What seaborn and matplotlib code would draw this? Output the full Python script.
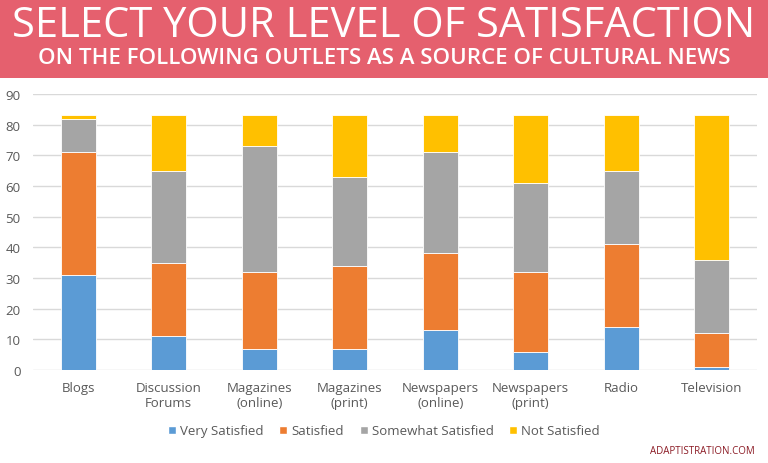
import numpy as np
import pandas as pd
import seaborn as sns
import matplotlib.pyplot as plt
from matplotlib.patches import Rectangle, Patch

# datos
outlets = ['Blogs', 'Discussion\nForums', 'Magazines\n(online)', 'Magazines\n(print)',
           'Newspapers\n(online)', 'Newspapers\n(print)', 'Radio', 'Television']
very_satisfied = [31, 11, 7, 7, 13, 6, 14, 1]
satisfied = [40, 24, 25, 27, 25, 26, 27, 11]
somewhat_satisfied = [11, 30, 41, 29, 33, 29, 24, 24]
not_satisfied = [1, 18, 10, 20, 12, 22, 18, 47]
levels = ['Very Satisfied', 'Satisfied', 'Somewhat Satisfied', 'Not Satisfied']
colores = ['#5B9BD5', '#ED7D31', '#A5A5A5', '#FFC000']

sns.set_style('white')
plt.rcParams['font.family'] = ['Open Sans', 'DejaVu Sans']

fig = plt.figure(figsize=(7.68, 4.64), dpi=100)
# banda de titulo
fig.patches.append(Rectangle((0, 1 - 79 / 464), 1, 79 / 464, transform=fig.transFigure,
                             facecolor='#E5606E', edgecolor='none', zorder=0))
fig.text(0.5, 1 - 26 / 464, 'SELECT YOUR LEVEL OF SATISFACTION', ha='center', va='center',
         color='white', fontsize=30)
fig.text(0.5, 1 - 58 / 464, 'ON THE FOLLOWING OUTLETS AS A SOURCE OF CULTURAL NEWS',
         ha='center', va='center', color='white', fontsize=16, fontweight='semibold')

ax = fig.add_axes([33 / 768, 1 - 371 / 464, (757 - 33) / 768, (371 - 95) / 464])

df = pd.DataFrame({'outlet': outlets, 'Very Satisfied': very_satisfied, 'Satisfied': satisfied,
                   'Somewhat Satisfied': somewhat_satisfied, 'Not Satisfied': not_satisfied})
base = np.zeros(len(outlets))
for nivel, c in zip(levels, colores):
    sns.barplot(x='outlet', y=nivel, data=df, color=c, bottom=base, width=0.39, saturation=1,
                edgecolor='white', linewidth=0.6, ax=ax, zorder=3)
    base = base + df[nivel].values

ax.set_ylim(0, 90)
ax.set_yticks(range(0, 91, 10))
ax.set_xlim(-0.5, len(outlets) - 0.5)
ax.grid(axis='y', color='#D9D9D9', linewidth=1, zorder=0)
ax.set_axisbelow(True)
sns.despine(ax=ax, left=True, bottom=True, top=True, right=True)
ax.set_xlabel('')
ax.set_ylabel('')
ax.tick_params(axis='both', length=0, labelcolor='#595959', labelsize=9.5)
ax.tick_params(axis='y', pad=9)
ax.tick_params(axis='x', pad=8)

handles = [Patch(facecolor=c, label=l) for c, l in zip(colores, levels)]
fig.legend(handles=handles, loc='center', bbox_to_anchor=(0.5, 1 - 432 / 464), ncol=4,
           frameon=False, fontsize=9.5, handlelength=0.6, handleheight=0.6,
           handletextpad=0.3, columnspacing=1.2, labelcolor='#595959')

fig.text(755 / 768, 1 - 452 / 464, 'ADAPTISTRATION.COM', ha='right', va='center',
         color='#8B1A24', fontsize=7)

fig.savefig('out.png', dpi=100)
